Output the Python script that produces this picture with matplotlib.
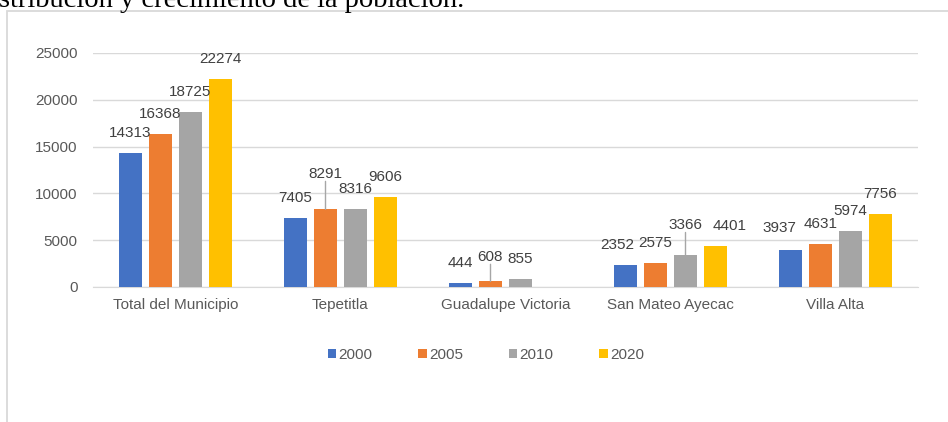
import numpy as np
import matplotlib
matplotlib.use("Agg")
import matplotlib.pyplot as plt
from matplotlib.patches import Rectangle

plt.rcParams['font.family'] = ['Liberation Sans', 'DejaVu Sans']

# datos
localidades = ["Total del Municipio", "Tepetitla", "Guadalupe Victoria",
               "San Mateo Ayecac", "Villa Alta"]
anios = ["2000", "2005", "2010", "2020"]
pob_2000 = [14313, 7405, 444, 2352, 3937]
pob_2005 = [16368, 8291, 608, 2575, 4631]
pob_2010 = [18725, 8316, 855, 3366, 5974]
pob_2020 = [22274, 9606, np.nan, 4401, 7756]
yticks = [0, 5000, 10000, 15000, 20000, 25000]

series = [pob_2000, pob_2005, pob_2010, pob_2020]
colores = ["#4472C4", "#ED7D31", "#A5A5A5", "#FFC000"]

# ajustes de etiquetas (serie, localidad) -> (dx, dy) en px, linea guia
ajustes = {
    (1, 1): (0, 15, True),
    (1, 2): (0, 4, True),
    (2, 3): (0, 10, True),
    (0, 3): (-8, 0, False),
    (3, 3): (14, 0, False),
    (0, 4): (-11, 2, False),
}

fig = plt.figure(figsize=(9.48, 4.22), dpi=100)
W, H = 948, 422

# marco del grafico
fig.patches.append(Rectangle((7 / W, -0.1), 1.1, 1.1 - 11 / H,
                             transform=fig.transFigure, fill=False,
                             edgecolor="#D9D9D9", linewidth=1.3))

# titulo cortado del documento
fig.text(-1 / W, 1 - 7 / H, "stribución y crecimiento de la población.",
         family="Liberation Serif", fontsize=20.5, color="black",
         ha="left", va="baseline")

ax = fig.add_axes([93 / W, 1 - 287 / H, 825 / W, 234 / H])
x = np.arange(len(localidades))
paso = 30 / 165
ancho = 23.5 / 165

for i, (vals, col) in enumerate(zip(series, colores)):
    pos = x + (i - 1.5) * paso
    ax.bar(pos, vals, width=ancho, color=col, label=anios[i], zorder=3)
    for j, v in enumerate(vals):
        if np.isnan(v):
            continue
        dx, dy, guia = ajustes.get((i, j), (0, 0, False))
        ax.annotate(f"{int(v)}", (pos[j], v),
                    xytext=(dx * 0.72, (20 + dy) * 0.72),
                    textcoords="offset points", ha="center", va="center",
                    fontsize=11, color="#404040", zorder=4)
        if guia:
            ax.annotate("", (pos[j], v), xytext=(0, (20 + dy - 7) * 0.72),
                        textcoords="offset points",
                        arrowprops=dict(arrowstyle="-", color="#A6A6A6",
                                        lw=1, shrinkA=0, shrinkB=0))

ax.set_xlim(-0.5, len(localidades) - 0.5)
ax.set_ylim(0, 25000)
ax.set_yticks(yticks)
ax.set_xticks(x)
ax.set_xticklabels(localidades)
ax.yaxis.grid(True, color="#D9D9D9", linewidth=1, zorder=0)
ax.set_axisbelow(True)
for s in ["top", "right", "left"]:
    ax.spines[s].set_visible(False)
ax.spines["bottom"].set_color("#D9D9D9")
ax.tick_params(axis="both", length=0, labelsize=11, labelcolor="#595959")
ax.tick_params(axis="y", pad=11)
ax.tick_params(axis="x", pad=8)

ax.legend(loc="center", bbox_to_anchor=(486 / W, 1 - 355 / H),
          bbox_transform=fig.transFigure, ncol=4, frameon=False, fontsize=11,
          handlelength=0.55, handleheight=0.55, handletextpad=0.15,
          columnspacing=3.0, labelcolor="#595959")

fig.savefig("out.png", dpi=100)
